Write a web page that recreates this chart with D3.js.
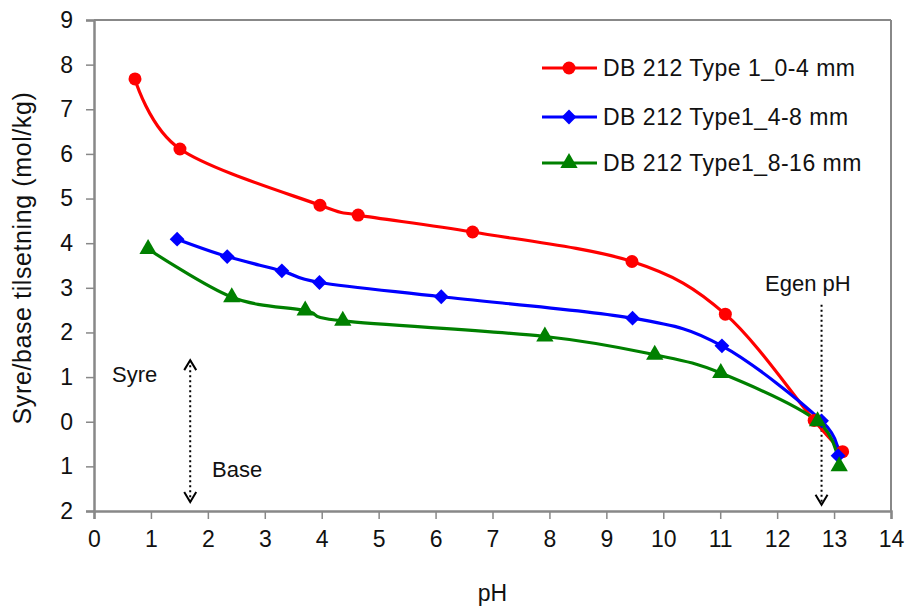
<!DOCTYPE html>
<html>
<head>
<meta charset="utf-8">
<script src="https://cdn.jsdelivr.net/npm/d3@7"></script>
<style>
  html, body { margin: 0; padding: 0; background: #fff; }
  svg { display: block; font-family: "Liberation Sans", Arial, sans-serif; }
</style>
</head>
<body>
<svg id="chart" width="907" height="607"></svg>
<script>
// ---- Data ----
const seriesNames = ["DB 212 Type 1_0-4 mm", "DB 212 Type1_4-8 mm", "DB 212 Type1_8-16 mm"];
const seriesColors = ["#ff0000", "#0000ff", "#008000"];
const redX = [0.72, 1.51, 3.97, 4.64, 6.65, 9.45, 11.09, 12.65, 13.15];
const redY = [7.68, 6.11, 4.85, 4.63, 4.25, 3.59, 2.41, 0.03, -0.67];
const blueX = [1.46, 2.34, 3.30, 3.96, 6.10, 9.46, 11.03, 12.78, 13.07];
const blueY = [4.09, 3.70, 3.38, 3.12, 2.80, 2.32, 1.70, 0.02, -0.76];
const greenX = [0.95, 2.42, 3.71, 4.37, 7.92, 9.85, 11.01, 12.71, 13.09];
const greenY = [3.87, 2.79, 2.49, 2.26, 1.91, 1.50, 1.09, 0.01, -1.00];
const xTicks = [0, 1, 2, 3, 4, 5, 6, 7, 8, 9, 10, 11, 12, 13, 14];
const yTicks = [9, 8, 7, 6, 5, 4, 3, 2, 1, 0, -1, -2];
const yTickLabels = ["9", "8", "7", "6", "5", "4", "3", "2", "1", "0", "1", "2"];
const xTitle = "pH";
const yTitle = "Syre/base tilsetning (mol/kg)";
const syreLabel = "Syre", baseLabel = "Base", egenLabel = "Egen pH";
const arrowAcid = {x: 1.69, y1: 1.38, y2: -1.80};
const arrowEgen = {x: 12.78, y1: 2.62, y2: -1.86};

// ---- Layout ----
const svg = d3.select("#chart");
const L = 94, R = 891, T = 20, B = 511;
const x = d3.scaleLinear().domain([0, 14]).range([L, R]);
const y = d3.scaleLinear().domain([-2, 9]).range([B, T]);
const axisColor = "#888888";
const fontSize = 23;

// plot frame (top & right thin gray)
svg.append("line").attr("x1", L).attr("x2", R).attr("y1", T).attr("y2", T)
  .attr("stroke", axisColor).attr("stroke-width", 2);
svg.append("line").attr("x1", R).attr("x2", R).attr("y1", T).attr("y2", B)
  .attr("stroke", axisColor).attr("stroke-width", 2);

// axes
const xAxis = d3.axisBottom(x).tickValues(xTicks).tickSize(8).tickPadding(12).tickFormat(d3.format("d"));
const gx = svg.append("g").attr("transform", `translate(0,${B})`).call(xAxis);
gx.select(".domain").attr("stroke", axisColor).attr("stroke-width", 2.5);
gx.selectAll(".tick line").attr("stroke", axisColor).attr("stroke-width", 1.5);
gx.selectAll(".tick text").attr("font-size", fontSize).attr("fill", "#111")
  .attr("font-family", "Liberation Sans, Arial, sans-serif");

const yAxis = d3.axisLeft(y).tickValues(yTicks).tickSize(8).tickPadding(13)
  .tickFormat((d, i) => yTickLabels[i]);
const gy = svg.append("g").attr("transform", `translate(${L},0)`).call(yAxis);
gy.select(".domain").attr("stroke", axisColor).attr("stroke-width", 2.5);
gy.selectAll(".tick line").attr("stroke", axisColor).attr("stroke-width", 1.5);
gy.selectAll(".tick text").attr("font-size", fontSize).attr("fill", "#111")
  .attr("font-family", "Liberation Sans, Arial, sans-serif");

// axis titles
svg.append("text").attr("x", (L + R) / 2).attr("y", 601).attr("text-anchor", "middle")
  .attr("font-size", fontSize).attr("fill", "#111").text(xTitle);
svg.append("text").attr("transform", `translate(31,258) rotate(-90)`)
  .attr("text-anchor", "middle").attr("font-size", 25).attr("letter-spacing", "0.6px")
  .attr("fill", "#111").text(yTitle);

// annotations
function dottedArrow(a, both) {
  const xp = x(a.x), yt = y(a.y1), yb = y(a.y2);
  svg.append("line").attr("x1", xp).attr("x2", xp).attr("y1", yt).attr("y2", yb)
    .attr("stroke", "#000").attr("stroke-width", 2).attr("stroke-dasharray", "2,3");
  svg.append("path").attr("d", `M${xp - 6},${yb - 10}L${xp},${yb}L${xp + 6},${yb - 10}`)
    .attr("fill", "none").attr("stroke", "#000").attr("stroke-width", 2);
  if (both) {
    svg.append("path").attr("d", `M${xp - 6},${yt + 10}L${xp},${yt}L${xp + 6},${yt + 10}`)
      .attr("fill", "none").attr("stroke", "#000").attr("stroke-width", 2);
  }
}
dottedArrow(arrowAcid, true);
dottedArrow(arrowEgen, false);
svg.append("text").attr("x", 112).attr("y", 382).attr("font-size", 22).attr("fill", "#111").text(syreLabel);
svg.append("text").attr("x", 212).attr("y", 477).attr("font-size", 22).attr("fill", "#111").text(baseLabel);
svg.append("text").attr("x", 765).attr("y", 291).attr("font-size", 22).attr("fill", "#111").text(egenLabel);

// series
const series = [
  {xs: redX, ys: redY, marker: "circle"},
  {xs: blueX, ys: blueY, marker: "diamond"},
  {xs: greenX, ys: greenY, marker: "triangle"}
];
const line = d3.line().x(d => x(d[0])).y(d => y(d[1])).curve(d3.curveCardinal.tension(0));

function drawMarker(g, type, cx, cy, color) {
  if (type === "circle") {
    g.append("circle").attr("cx", cx).attr("cy", cy).attr("r", 6.5).attr("fill", color);
  } else if (type === "diamond") {
    g.append("path").attr("d", d3.symbol(d3.symbolSquare, 110)())
      .attr("transform", `translate(${cx},${cy}) rotate(45)`).attr("fill", color);
  } else {
    g.append("path").attr("d", d3.symbol(d3.symbolTriangle, 130)())
      .attr("transform", `translate(${cx},${cy})`).attr("fill", color);
  }
}

series.forEach((s, i) => {
  const pts = s.xs.map((v, j) => [v, s.ys[j]]);
  svg.append("path").attr("d", line(pts)).attr("fill", "none")
    .attr("stroke", seriesColors[i]).attr("stroke-width", 3.2);
});
series.forEach((s, i) => {
  const g = svg.append("g");
  s.xs.forEach((v, j) => drawMarker(g, s.marker, x(v), y(s.ys[j]), seriesColors[i]));
});

// legend
const legY = [68, 117, 163];
series.forEach((s, i) => {
  const g = svg.append("g");
  g.append("line").attr("x1", 542).attr("x2", 597).attr("y1", legY[i]).attr("y2", legY[i])
    .attr("stroke", seriesColors[i]).attr("stroke-width", 3);
  drawMarker(g, s.marker, 569, legY[i], seriesColors[i]);
  g.append("text").attr("x", 603).attr("y", legY[i] + 8).attr("font-size", fontSize)
    .attr("letter-spacing", "0.5px").attr("fill", "#111").text(seriesNames[i]);
});
</script>
</body>
</html>
